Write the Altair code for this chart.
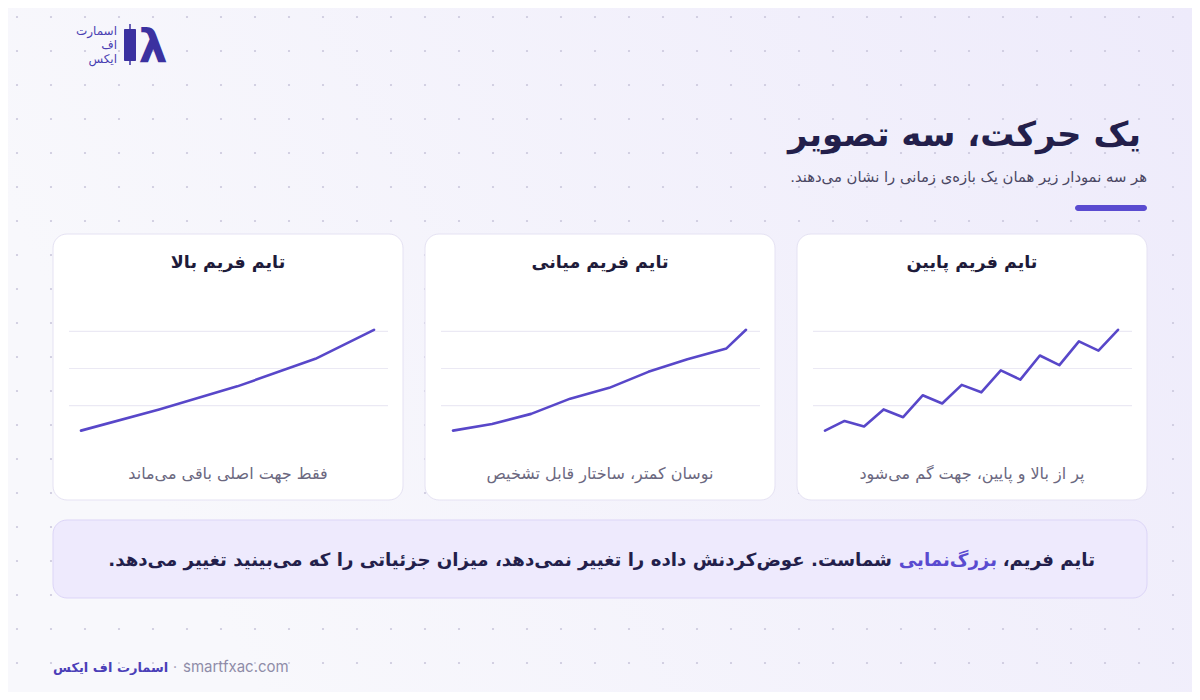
import altair as alt
import pandas as pd
import numpy as np

# ---------------- data ----------------
idx_high = [0, 4, 8, 12, 15]
val_high = [0.33, 0.90, 1.52, 2.26, 3.04]
idx_mid = [0, 2, 4, 6, 8, 10, 12, 14, 15]
val_mid = [0.33, 0.51, 0.78, 1.19, 1.48, 1.91, 2.25, 2.54, 3.04]
idx_low = list(range(16))
val_low = [0.33, 0.59, 0.44, 0.90, 0.69, 1.28, 1.06, 1.56, 1.36, 1.95, 1.70, 2.35, 2.09, 2.73, 2.48, 3.04]
grid_levels = [1, 2, 3]

card_titles = ["تایم فریم بالا", "تایم فریم میانی", "تایم فریم پایین"]
card_captions = ["فقط جهت اصلی باقی می‌ماند", "نوسان کمتر، ساختار قابل تشخیص", "پر از بالا و پایین، جهت گم می‌شود"]
title_text = "یک حرکت، سه تصویر"
subtitle_text = "هر سه نمودار زیر همان یک بازه‌ی زمانی را نشان می‌دهند."
note_parts = ["تایم فریم،", "بزرگ‌نمایی", "شماست. عوض‌کردنش داده را تغییر نمی‌دهد، میزان جزئیاتی را که می‌بینید تغییر می‌دهد."]
brand_fa = "اسمارت اف ایکس"
brand_lines = ["اسمارت", "اف", "ایکس"]
site = "smartfxac.com"

# ---------------- helpers ----------------
O = 8  # page margin
W, H = 1184, 684
FA = "DejaVu Sans"
NAVY = "#231f4b"
PURPLE = "#5847c9"


def px(v):
    return alt.value(v - O)


def fa(s):
    return "\u200f" + s + "\u200f"


base = alt.Chart(pd.DataFrame({"k": [0]}))
layers = []

# background
bg = base.mark_rect(
    color=alt.LinearGradient(
        gradient="linear",
        stops=[alt.GradientStop(color="#f8f8fc", offset=0),
               alt.GradientStop(color="#eeebfb", offset=1)],
        x1=0, x2=1, y1=0.3, y2=0,
    )
).encode(x=px(O), x2=px(O + W), y=px(O), y2=px(O + H))
layers.append(bg)

# dot grid
gx, gy = np.meshgrid(np.arange(17, 1200, 34), np.arange(17, 700, 34))
dots_df = pd.DataFrame({"gx": gx.ravel(), "gy": gy.ravel()})
dots = alt.Chart(dots_df).mark_circle(size=5, color="#cbc8dc", opacity=1).encode(
    x=alt.X("gx:Q", scale=alt.Scale(domain=[0, 1200], range=[-O, 1200 - O]), axis=None),
    y=alt.Y("gy:Q", scale=alt.Scale(domain=[0, 700], range=[-O, 700 - O]), axis=None),
)
layers.append(dots)

# logo
for t, yy in zip(brand_lines, [35, 49, 63]):
    layers.append(base.mark_text(font=FA, fontSize=12, color="#4a3fb2", align="right", baseline="alphabetic")
                  .encode(x=px(117), y=px(yy), text=alt.value(fa(t))))
layers.append(base.mark_rule(color="#3b31a0", strokeWidth=1.5).encode(x=px(130), y=px(24), y2=px(65)))
layers.append(base.mark_rect(color="#3b31a0", cornerRadius=1).encode(x=px(124), x2=px(136), y=px(29), y2=px(61)))
layers.append(base.mark_text(font=FA, fontSize=46, fontWeight="bold", color="#3b31a0", align="center", baseline="alphabetic")
              .encode(x=px(153), y=px(62), text=alt.value("λ")))

# title + subtitle + accent bar
layers.append(base.mark_text(font=FA, fontSize=34, fontWeight="bold", color=NAVY, align="right", baseline="alphabetic")
              .encode(x=px(1141), y=px(146), text=alt.value(fa(title_text))))
layers.append(base.mark_text(font=FA, fontSize=14.8, color="#4a4763", align="right", baseline="alphabetic")
              .encode(x=px(1147), y=px(182), text=alt.value(fa(subtitle_text))))
layers.append(base.mark_rect(color="#5a4bd0", cornerRadius=3).encode(x=px(1075), x2=px(1147), y=px(205), y2=px(211)))

# cards
card_lefts = [53, 425, 797]
series = [(idx_high, val_high), (idx_mid, val_mid), (idx_low, val_low)]
for left, ttl, cap, (ix, vals) in zip(card_lefts, card_titles, card_captions, series):
    layers.append(base.mark_rect(fill="white", stroke="#e5e2f3", strokeWidth=1, cornerRadius=14)
                  .encode(x=px(left), x2=px(left + 350), y=px(234), y2=px(500)))
    yscale = alt.Scale(domain=[0, 4], range=[442.9 - O, 294.1 - O])
    xscale = alt.Scale(domain=[0, 15], range=[left + 28 - O, left + 321 - O])
    grid = alt.Chart(pd.DataFrame({"lvl": grid_levels})).mark_rule(color="#ebe9f4", strokeWidth=1.2).encode(
        y=alt.Y("lvl:Q", scale=yscale, axis=None), x=px(left + 16), x2=px(left + 335))
    layers.append(grid)
    line = alt.Chart(pd.DataFrame({"i": ix, "v": vals})).mark_line(
        color=PURPLE, strokeWidth=2.6, strokeJoin="round", strokeCap="round").encode(
        x=alt.X("i:Q", scale=xscale, axis=None),
        y=alt.Y("v:Q", scale=yscale, axis=None),
    )
    layers.append(line)
    layers.append(base.mark_text(font=FA, fontSize=17.5, fontWeight="bold", color="#1e1b3a", align="center", baseline="alphabetic")
                  .encode(x=px(left + 175), y=px(268), text=alt.value(fa(ttl))))
    layers.append(base.mark_text(font=FA, fontSize=16, color="#6b687f", align="center", baseline="alphabetic")
                  .encode(x=px(left + 175), y=px(479), text=alt.value(fa(cap))))

# note box
layers.append(base.mark_rect(fill="#eeeafd", stroke="#dcd5f7", strokeWidth=1, cornerRadius=14)
              .encode(x=px(53), x2=px(1147), y=px(520), y2=px(598)))
note_x = [1095, 997, 892]
note_col = [NAVY, "#5a4bd0", NAVY]
for t, xx, cc in zip(note_parts, note_x, note_col):
    layers.append(base.mark_text(font=FA, fontSize=18.2, fontWeight="bold", color=cc, align="right", baseline="alphabetic")
                  .encode(x=px(xx), y=px(566), text=alt.value(fa(t))))

# footer
layers.append(base.mark_text(font=FA, fontSize=13, fontWeight="bold", color="#4b3fb8", align="left", baseline="alphabetic")
              .encode(x=px(53), y=px(672), text=alt.value(fa(brand_fa))))
layers.append(base.mark_text(font="Inter", fontSize=14, color="#9a97b0", align="center", baseline="alphabetic")
              .encode(x=px(175), y=px(672), text=alt.value("·")))
layers.append(base.mark_text(font="Inter", fontSize=15, color="#8f8ca8", align="left", baseline="alphabetic")
              .encode(x=px(183), y=px(672), text=alt.value(site)))

chart = alt.layer(*layers).resolve_scale(x="independent", y="independent").properties(
    width=W, height=H, padding=0, autosize="none", background="#f6f5fc"
).configure_view(strokeWidth=0)

chart.save("out.html", embed_options={"renderer": "svg", "actions": False})
